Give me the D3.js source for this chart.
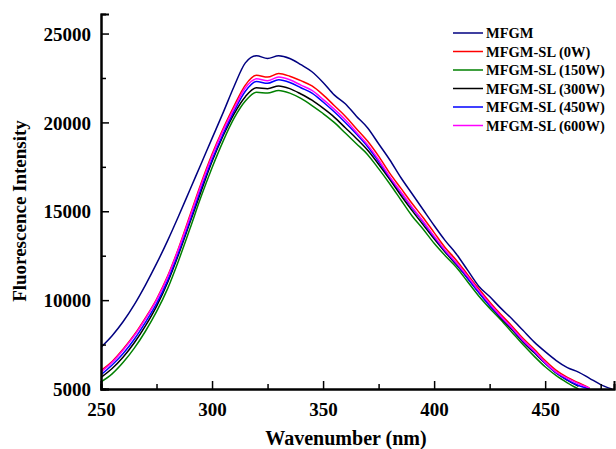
<!DOCTYPE html>
<html>
<head>
<meta charset="utf-8">
<script src="https://cdn.jsdelivr.net/npm/d3@7"></script>
<style>
  body { margin: 0; background: #fff; }
  svg text { font-family: "Liberation Serif", "Times New Roman", serif; font-weight: bold; fill: #000; }
</style>
</head>
<body>
<svg id="chart" width="616" height="449"></svg>
<script>
// wavelength grid (nm), read every 5 nm off the picture
var wavelengths = d3.range(250, 481, 5);

var mfgm = [7350, 8000, 8800, 9750, 10850, 12050, 13350, 14750, 16200, 17650,
            19100, 20550, 22050, 23350, 23750, 23600, 23750, 23600, 23250, 22850,
            22250, 21550, 21050, 20350, 19700, 18800, 17900, 16900, 16000, 15100,
            14200, 13350, 12600, 11700, 10800, 10200, 9550, 8950, 8300, 7650,
            7100, 6600, 6200, 5950, 5600, 5250, 5000];
var sl0 = [6050, 6550, 7250, 8050, 9000, 10050, 11350, 12950, 14750, 16550,
           18200, 19650, 20950, 22100, 22650, 22550, 22750, 22600, 22350, 22050,
           21550, 20950, 20350, 19650, 18950, 18100, 17150, 16300, 15450, 14650,
           13800, 12950, 12250, 11450, 10650, 9900, 9200, 8550, 7850, 7250,
           6600, 6050, 5650, 5350, 5050];
var sl150 = [5400, 5850, 6500, 7300, 8250, 9350, 10650, 12250, 14000, 15800,
             17450, 18950, 20250, 21200, 21700, 21650, 21800, 21650, 21350, 20950,
             20500, 20000, 19400, 18800, 18200, 17400, 16550, 15650, 14750, 14000,
             13200, 12500, 11850, 11050, 10250, 9550, 8900, 8200, 7500, 6850,
             6250, 5750, 5350, 5000];
var sl300 = [5650, 6150, 6800, 7600, 8550, 9650, 11000, 12600, 14350, 16100,
             17800, 19250, 20500, 21450, 21950, 21900, 22050, 21900, 21600, 21250,
             20800, 20300, 19700, 19100, 18450, 17650, 16800, 15900, 15050, 14250,
             13450, 12700, 12000, 11250, 10450, 9700, 9000, 8350, 7650, 7050,
             6450, 5900, 5500, 5150];
var sl450 = [5800, 6350, 7000, 7800, 8750, 9800, 11100, 12700, 14450, 16250,
             17900, 19350, 20650, 21750, 22300, 22200, 22400, 22250, 21950, 21650,
             21150, 20600, 20000, 19350, 18650, 17800, 16900, 16050, 15200, 14400,
             13550, 12750, 12050, 11250, 10450, 9700, 9050, 8400, 7700, 7100,
             6450, 5900, 5500, 5200, 5000];
var sl600 = [5950, 6500, 7200, 8000, 8950, 10000, 11300, 12900, 14650, 16450,
             18100, 19550, 20800, 21950, 22450, 22350, 22550, 22400, 22100, 21800,
             21300, 20750, 20150, 19450, 18750, 17900, 16950, 16100, 15250, 14450,
             13600, 12800, 12100, 11350, 10550, 9800, 9100, 8450, 7750, 7150,
             6500, 5950, 5600, 5300, 5050];

var seriesNames = ["MFGM", "MFGM-SL (0W)", "MFGM-SL (150W)", "MFGM-SL (300W)", "MFGM-SL (450W)", "MFGM-SL (600W)"];
var seriesValues = [mfgm, sl0, sl150, sl300, sl450, sl600];
var seriesColors = ["#000080", "#ff0000", "#008000", "#000000", "#0000ff", "#ff00ff"];

var xMajor = [250, 300, 350, 400, 450];
var xMinor = [275, 325, 375, 425, 475];
var yMajor = [5000, 10000, 15000, 20000, 25000];
var yMinor = [7500, 12500, 17500, 22500];

var margin = {left: 101, right: 2, top: 14, bottom: 60};
var width = 616 - margin.left - margin.right;
var height = 449 - margin.top - margin.bottom;

var svg = d3.select("#chart");
var g = svg.append("g").attr("transform", "translate(" + margin.left + "," + margin.top + ")");

var x = d3.scaleLinear().domain([250, 481]).range([0, width]);
var y = d3.scaleLinear().domain([5000, 26100]).range([height, 0]);

// Curves: clip so nothing falls below the axis.
svg.append("clipPath").attr("id", "plot")
    .append("rect").attr("width", width).attr("height", height);

var line = d3.line()
    .curve(d3.curveMonotoneX)
    .x(function(d) { return x(d[0]); })
    .y(function(d) { return y(d[1]); });

seriesValues.forEach(function(vals, i) {
    var pts = vals.map(function(v, j) { return [wavelengths[j], v]; });
    g.append("path")
        .attr("clip-path", "url(#plot)")
        .attr("d", line(pts))
        .attr("fill", "none")
        .attr("stroke", seriesColors[i])
        .attr("stroke-width", 1.5);
});

// Axes, ticks pointing into the plot.
g.append("g").attr("transform", "translate(0," + height + ")")
    .call(d3.axisBottom(x).tickValues(xMajor).tickSize(-8).tickPadding(14).tickFormat(d3.format("d")));
g.append("g").attr("transform", "translate(0," + height + ")")
    .call(d3.axisBottom(x).tickValues(xMinor).tickSize(-5).tickFormat(""));
var yAxis = g.append("g")
    .call(d3.axisLeft(y).tickValues(yMajor).tickSize(-8).tickPadding(10).tickFormat(d3.format("d")));
g.append("g")
    .call(d3.axisLeft(y).tickValues(yMinor).tickSize(-5).tickFormat(""));

g.selectAll(".domain").attr("stroke", "#000").attr("stroke-width", 2);
g.selectAll(".tick line").attr("stroke", "#000").attr("stroke-width", 1.5);
g.selectAll(".tick text").style("font-size", "19px");
yAxis.selectAll(".tick text").attr("dy", "0.35em");

// Axis titles
svg.append("text")
    .attr("x", 346).attr("y", 445)
    .attr("text-anchor", "middle")
    .style("font-size", "20px")
    .text("Wavenumber (nm)");
svg.append("text")
    .attr("transform", "translate(26,211) rotate(-90)")
    .attr("text-anchor", "middle")
    .style("font-size", "19px")
    .text("Fluorescence Intensity");

// Legend
var legend = svg.append("g").attr("transform", "translate(453,33)");
seriesNames.forEach(function(name, i) {
    var row = legend.append("g").attr("transform", "translate(0," + (i * 18.5) + ")");
    row.append("line").attr("x1", 0).attr("x2", 30)
        .attr("stroke", seriesColors[i]).attr("stroke-width", 1.5);
    row.append("text").attr("x", 33).attr("dy", "0.35em")
        .style("font-size", "14.5px")
        .text(name);
});
</script>
</body>
</html>
